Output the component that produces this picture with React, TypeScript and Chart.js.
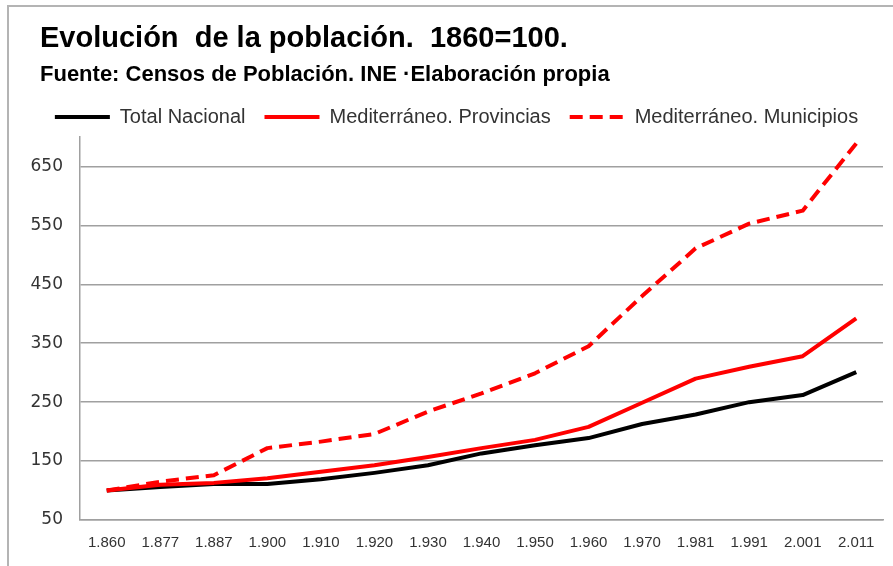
import { useEffect, useRef } from 'react';
import { Chart, registerables } from 'chart.js';

Chart.register(...registerables);

const years = ['1.860', '1.877', '1.887', '1.900', '1.910', '1.920', '1.930', '1.940', '1.950', '1.960', '1.970', '1.981', '1.991', '2.001', '2.011'];
const totalNacional = [100, 106, 111, 111, 119, 130, 143, 163, 177, 189, 213, 229, 250, 262, 301];
const medProvincias = [100, 110, 113, 121, 132, 143, 157, 172, 186, 208, 249, 290, 310, 328, 392];
const medMunicipios = [100, 115, 126, 172, 183, 196, 234, 265, 299, 345, 430, 511, 553, 575, 689];
const yTickValues = [50, 150, 250, 350, 450, 550, 650];
const seriesNames = ['Total Nacional', 'Mediterráneo. Provincias', 'Mediterráneo. Municipios'];
const titleText = 'Evolución  de la población.  1860=100.';
const subtitleText = 'Fuente: Censos de Población. INE ·Elaboración propia';

const headerPlugin = {
  id: 'headerText',
  afterDraw(chart: any) {
    const ctx = chart.ctx;
    ctx.save();
    ctx.fillStyle = '#000000';
    ctx.textAlign = 'left';
    ctx.textBaseline = 'alphabetic';
    ctx.font = "bold 29px 'Liberation Sans', Arial, sans-serif";
    ctx.fillText(titleText, 40, 47);
    ctx.font = "bold 22px 'Liberation Sans', Arial, sans-serif";
    ctx.fillText(subtitleText, 40, 81);
    ctx.restore();
  },
};

export default function App() {
  const ref = useRef<HTMLCanvasElement>(null);

  useEffect(() => {
    if (!ref.current) return;
    const chart = new Chart(ref.current, {
      type: 'line',
      data: {
        labels: years,
        datasets: [
          {
            label: seriesNames[0],
            data: totalNacional,
            borderColor: '#000000',
            backgroundColor: '#000000',
            borderWidth: 4,
            pointRadius: 0,
            borderJoinStyle: 'round',
            order: 2,
          },
          {
            label: seriesNames[1],
            data: medProvincias,
            borderColor: '#ff0000',
            backgroundColor: '#ff0000',
            borderWidth: 4,
            pointRadius: 0,
            borderJoinStyle: 'round',
            order: 1,
          },
          {
            label: seriesNames[2],
            data: medMunicipios,
            borderColor: '#ff0000',
            backgroundColor: '#ff0000',
            borderWidth: 4,
            borderDash: [13, 7],
            pointRadius: 0,
            borderJoinStyle: 'round',
            order: 0,
          },
        ],
      },
      plugins: [headerPlugin],
      options: {
        responsive: false,
        maintainAspectRatio: false,
        animation: false,
        layout: { padding: { left: 30, right: 10, top: 88, bottom: 0 } },
        plugins: {
          title: { display: false },
          legend: {
            display: true,
            position: 'top',
            align: 'center',
            labels: {
              usePointStyle: true,
              pointStyle: 'line',
              pointStyleWidth: 55,
              color: '#333333',
              font: { family: "'Liberation Sans', Arial, sans-serif", size: 20, lineHeight: 1.2 },
              padding: 19,
              sort: (a: any, b: any) => a.datasetIndex - b.datasetIndex,
              generateLabels: (c: any) => {
                const items = Chart.defaults.plugins.legend.labels.generateLabels(c);
                items.forEach((it: any) => {
                  const ds: any = c.data.datasets[it.datasetIndex];
                  it.lineDash = ds.borderDash || [];
                  it.strokeStyle = ds.borderColor;
                  it.fillStyle = ds.borderColor;
                  it.lineWidth = ds.borderWidth;
                  it.lineCap = 'butt';
                });
                return items;
              },
            },
          },
          tooltip: { enabled: false },
        },
        scales: {
          x: {
            offset: true,
            grid: { display: false, drawTicks: false, offset: true },
            border: { display: true, color: '#a0a0a0', width: 1.5 },
            ticks: {
              color: '#333333',
              font: { family: "'Liberation Sans', Arial, sans-serif", size: 15, lineHeight: 1.2 },
              padding: 14,
              maxRotation: 0,
              autoSkip: false,
            },
            afterFit: (s: any) => { s.height = 46; },
          },
          y: {
            min: 50,
            max: 700,
            afterBuildTicks: (s: any) => { s.ticks = yTickValues.map((v) => ({ value: v })); },
            grid: { color: '#a0a0a0', lineWidth: 1.5, drawTicks: false },
            border: { display: true, color: '#a0a0a0', width: 1.5 },
            ticks: {
              color: '#333333',
              font: { family: "'DejaVu Sans', Verdana, sans-serif", size: 17, lineHeight: 1.2 },
              padding: 17,
            },
            afterFit: (s: any) => { s.width = 50; },
          },
        },
      },
    });
    return () => chart.destroy();
  }, []);

  return (
    <div style={{ position: 'absolute', left: 0, top: 0, width: 893, height: 566, overflow: 'hidden', background: '#ffffff' }}>
      <div style={{ position: 'absolute', left: 7, top: 5, width: 900, height: 600, borderLeft: '2px solid #b4b4b4', borderTop: '2px solid #b4b4b4' }} />
      <canvas ref={ref} width={893} height={566} style={{ position: 'absolute', left: 0, top: 0, width: 893, height: 566 }} />
    </div>
  );
}
